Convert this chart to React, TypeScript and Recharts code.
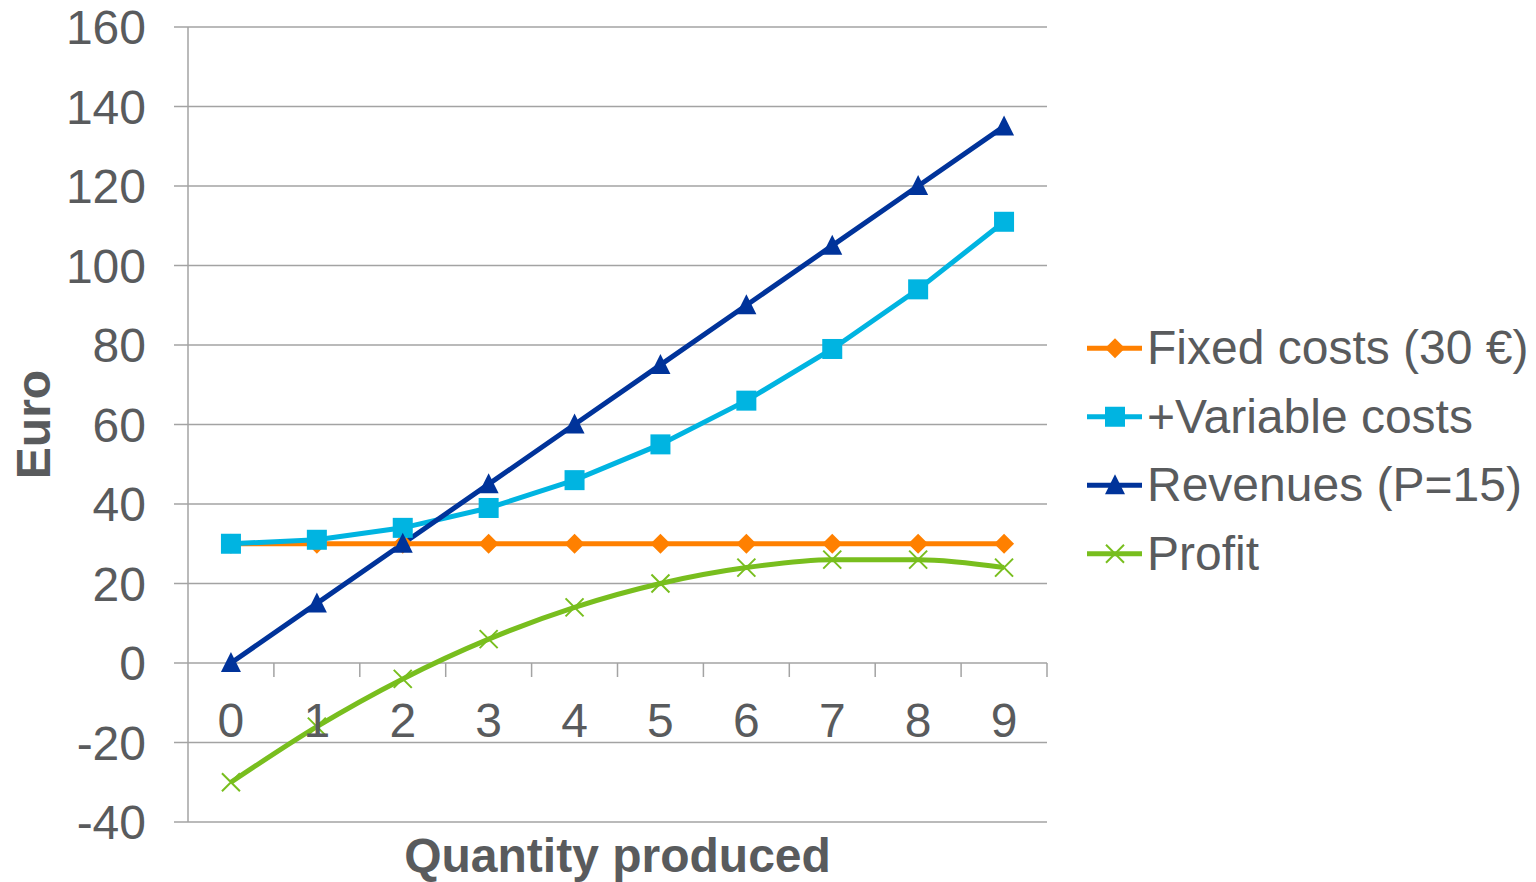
import React from 'react';
import { LineChart, Line, XAxis, YAxis, CartesianGrid, Legend, Label } from 'recharts';

// Quantity produced (x axis categories)
const QUANTITIES = [0, 1, 2, 3, 4, 5, 6, 7, 8, 9];
// Cost, revenue and profit series in euro
const FIXED_COSTS = [30, 30, 30, 30, 30, 30, 30, 30, 30, 30];
const TOTAL_COSTS = [30, 31, 34, 39, 46, 55, 66, 79, 94, 111];
const REVENUES = [0, 15, 30, 45, 60, 75, 90, 105, 120, 135];
const PROFIT = [-30, -16, -4, 6, 14, 20, 24, 26, 26, 24];
const Y_TICKS = [-40, -20, 0, 20, 40, 60, 80, 100, 120, 140, 160];

const SERIES_NAMES = ['Fixed costs (30 €)', '+Variable costs', 'Revenues (P=15)', 'Profit'];

// Layout
const WIDTH = 1536;
const HEIGHT = 882;
const MARGIN = { top: 27, right: 0, bottom: 0, left: 0 };
const Y_AXIS_WIDTH = 188;
const X_AXIS_HEIGHT = 60;
const LEGEND_WIDTH = 489;
const LEGEND_ROW = 68.5;
const PLOT_W = WIDTH - MARGIN.left - MARGIN.right - Y_AXIS_WIDTH - LEGEND_WIDTH;
const PLOT_H = HEIGHT - MARGIN.top - MARGIN.bottom - X_AXIS_HEIGHT;
const Y_MIN = -40;
const Y_MAX = 160;
const X_MIN = -0.5;
const X_MAX = 9.5;
const BAND = PLOT_W / (X_MAX - X_MIN);
const ZERO_FROM_BOTTOM = (PLOT_H * (0 - Y_MIN)) / (Y_MAX - Y_MIN);

const FONT = '"Liberation Sans", Arial, Helvetica, sans-serif';
const FONT_SIZE = 48;
const TEXT = '#595b5d';
const GRID = '#a3a3a3';
const LINE_WIDTH = 5;

type Shape = 'diamond' | 'square' | 'triangle' | 'cross';

const SERIES: { key: string; color: string; shape: Shape; type: 'linear' | 'monotone' }[] = [
  { key: 'fixed', color: '#FF8000', shape: 'diamond', type: 'linear' },
  { key: 'total', color: '#00B4E1', shape: 'square', type: 'linear' },
  { key: 'revenue', color: '#00339A', shape: 'triangle', type: 'linear' },
  { key: 'profit', color: '#78BE1E', shape: 'cross', type: 'monotone' },
];

const data = QUANTITIES.map((q, i) => ({
  q,
  fixed: FIXED_COSTS[i],
  total: TOTAL_COSTS[i],
  revenue: REVENUES[i],
  profit: PROFIT[i],
}));

function Marker({ shape, cx, cy, color }: { shape: Shape; cx: number; cy: number; color: string }) {
  switch (shape) {
    case 'diamond':
      return <path d={`M${cx},${cy - 10}L${cx + 10},${cy}L${cx},${cy + 10}L${cx - 10},${cy}Z`} fill={color} />;
    case 'square':
      return <rect x={cx - 10} y={cy - 10} width={20} height={20} fill={color} />;
    case 'triangle':
      return <path d={`M${cx},${cy - 11}L${cx + 10},${cy + 9}L${cx - 10},${cy + 9}Z`} fill={color} />;
    case 'cross':
    default:
      return (
        <path
          d={`M${cx - 9},${cy - 9}L${cx + 9},${cy + 9}M${cx + 9},${cy - 9}L${cx - 9},${cy + 9}`}
          stroke={color}
          strokeWidth={2}
          fill="none"
        />
      );
  }
}

function makeDot(shape: Shape, color: string) {
  return (props: any) => {
    const { cx, cy, index } = props;
    if (cx == null || cy == null) return <g key={`d-${index}`} />;
    return (
      <g key={`d-${shape}-${index}`}>
        <Marker shape={shape} cx={cx} cy={cy} color={color} />
      </g>
    );
  };
}

// Category labels sit just under the zero line, with a tick mark at each category boundary
function QuantityTick(props: any) {
  const { x, y, payload } = props;
  const zeroY = y - ZERO_FROM_BOTTOM;
  const bx = x + BAND / 2;
  return (
    <g>
      <line x1={bx} x2={bx} y1={zeroY} y2={zeroY + 14} stroke={GRID} strokeWidth={1.5} />
      <text
        x={x}
        y={zeroY + 57}
        dy="0.355em"
        textAnchor="middle"
        fill={TEXT}
        fontSize={FONT_SIZE}
        fontFamily={FONT}
      >
        {payload.value}
      </text>
    </g>
  );
}

function renderLegend() {
  return (
    <svg width={LEGEND_WIDTH} height={LEGEND_ROW * SERIES.length} style={{ display: 'block', overflow: 'visible' }}>
      {SERIES.map((s, i) => {
        const cy = LEGEND_ROW / 2 + LEGEND_ROW * i;
        return (
          <g key={s.key}>
            <line x1={40} x2={95} y1={cy} y2={cy} stroke={s.color} strokeWidth={LINE_WIDTH} />
            <Marker shape={s.shape} cx={68} cy={cy} color={s.color} />
            <text x={100} y={cy + 16} fill={TEXT} fontSize={FONT_SIZE} fontFamily={FONT}>
              {SERIES_NAMES[i]}
            </text>
          </g>
        );
      })}
    </svg>
  );
}

export default function App() {
  return (
    <div style={{ width: WIDTH, height: HEIGHT, overflow: 'hidden' }}>
      <style>{`body { margin: 0; overflow: hidden; }`}</style>
      <LineChart width={WIDTH} height={HEIGHT} data={data} margin={MARGIN}>
        <CartesianGrid vertical={false} stroke={GRID} strokeWidth={1.5} />
        <XAxis
          dataKey="q"
          type="number"
          domain={[X_MIN, X_MAX]}
          ticks={QUANTITIES}
          interval={0}
          axisLine={false}
          tickLine={false}
          tickSize={0}
          tickMargin={0}
          height={X_AXIS_HEIGHT}
          tick={<QuantityTick />}
        >
          <Label
            content={(p: any) => {
              const vb = p.viewBox;
              return (
                <text
                  x={vb.x + vb.width / 2}
                  y={vb.y + 50}
                  textAnchor="middle"
                  fill={TEXT}
                  fontSize={FONT_SIZE}
                  fontWeight="bold"
                  fontFamily={FONT}
                >
                  Quantity produced
                </text>
              );
            }}
          />
        </XAxis>
        <YAxis
          type="number"
          domain={[Y_MIN, Y_MAX]}
          ticks={Y_TICKS}
          interval={0}
          width={Y_AXIS_WIDTH}
          axisLine={{ stroke: GRID, strokeWidth: 1.5 }}
          tickLine={{ stroke: GRID, strokeWidth: 1.5 }}
          tickSize={14}
          tickMargin={28}
          tick={{ fill: TEXT, fontSize: FONT_SIZE, fontFamily: FONT }}
        >
          <Label
            content={(p: any) => {
              const vb = p.viewBox;
              const cx = 50;
              const cy = vb.y + vb.height / 2;
              return (
                <text
                  x={cx}
                  y={cy}
                  transform={`rotate(-90 ${cx} ${cy})`}
                  textAnchor="middle"
                  fill={TEXT}
                  fontSize={FONT_SIZE}
                  fontWeight="bold"
                  fontFamily={FONT}
                >
                  Euro
                </text>
              );
            }}
          />
        </YAxis>
        <Legend
          layout="vertical"
          align="right"
          verticalAlign="top"
          content={renderLegend}
          wrapperStyle={{ top: 348 - LEGEND_ROW / 2 }}
        />
        {SERIES.map((s, i) => (
          <Line
            key={s.key}
            dataKey={s.key}
            name={SERIES_NAMES[i]}
            type={s.type}
            stroke={s.color}
            strokeWidth={LINE_WIDTH}
            dot={makeDot(s.shape, s.color)}
            activeDot={false}
            isAnimationActive={false}
          />
        ))}
      </LineChart>
    </div>
  );
}
